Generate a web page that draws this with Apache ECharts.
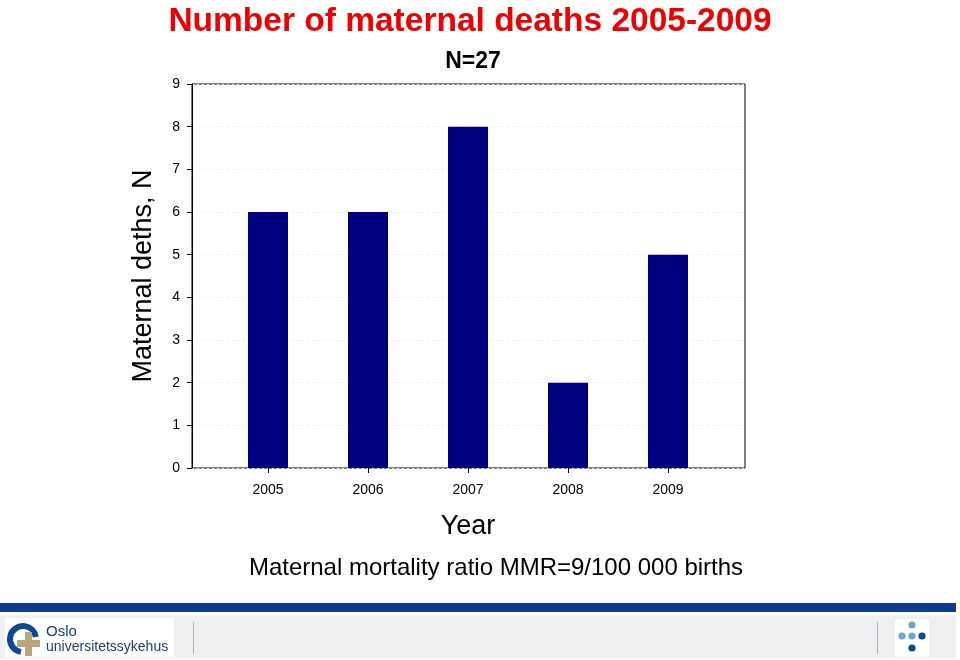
<!DOCTYPE html>
<html>
<head>
<meta charset="utf-8">
<script src="https://cdn.jsdelivr.net/npm/echarts@6/dist/echarts.min.js"></script>
<style>html,body{margin:0;padding:0;background:#fff}#c{width:960px;height:660px}</style>
</head>
<body>
<div id="c"></div>
<script>
var years = ['2005', '2006', '2007', '2008', '2009'];
var deaths = [6, 6, 8, 2, 5];
var yTicks = [0, 1, 2, 3, 4, 5, 6, 7, 8, 9];

var F = 'Liberation Sans, Arial, sans-serif';
var chart = echarts.init(document.getElementById('c'));
chart.setOption({
  animation: false,
  backgroundColor: '#ffffff',
  title: [
    { text: 'Number of maternal deaths 2005-2009', left: 465, top: 0, textAlign: 'center',
      textStyle: { color: '#ee0000', fontFamily: F, fontWeight: 'bold', fontSize: 33.5 } },
    { text: 'N=27', left: 468, top: 45, textAlign: 'center',
      textStyle: { color: '#000', fontFamily: F, fontWeight: 'bold', fontSize: 23 } },
    { text: 'Maternal mortality ratio MMR=9/100 000 births', left: 491, top: 551, textAlign: 'center',
      textStyle: { color: '#000', fontFamily: F, fontWeight: 'normal', fontSize: 24 } }
  ],
  grid: [
    { left: 218, width: 500, top: 84, height: 384, containLabel: false },
    { left: 192, right: 215, top: 84, height: 384, show: true, borderColor: '#000', borderWidth: 1, backgroundColor: 'transparent' }
  ],
  xAxis: [
    { type: 'category', gridIndex: 0, data: years,
      axisLine: { show: false },
      axisTick: { show: true, alignWithLabel: true, length: 5, lineStyle: { color: '#000' } },
      axisLabel: { color: '#000', fontFamily: F, fontSize: 14, margin: 15 },
      name: 'Year', nameLocation: 'middle', nameGap: 45,
      nameTextStyle: { color: '#000', fontFamily: F, fontSize: 27 } },
    { type: 'value', gridIndex: 1, min: 0, max: 1, show: false }
  ],
  yAxis: [
    { type: 'value', gridIndex: 0, min: 0, max: 9, interval: 1, show: false },
    { type: 'value', gridIndex: 1, min: 0, max: 9, interval: 1,
      axisLine: { show: true, lineStyle: { color: '#000' } },
      axisTick: { show: true, length: 5, lineStyle: { color: '#000' } },
      axisLabel: { color: '#000', fontFamily: F, fontSize: 14, margin: 12,
        formatter: function (v) { return yTicks.indexOf(v) >= 0 ? String(v) : ''; } },
      splitLine: { show: true, lineStyle: { color: '#ebebeb', type: [2, 3], width: 1 } },
      name: 'Maternal deths, N', nameLocation: 'middle', nameGap: 35, nameRotate: 90,
      nameTextStyle: { color: '#000', fontFamily: F, fontSize: 27 } }
  ],
  series: [
    { type: 'bar', xAxisIndex: 0, yAxisIndex: 0, data: deaths, barWidth: 40,
      itemStyle: { color: '#000080' } }
  ],
  graphic: [
    { type: 'rect', shape: { x: 0, y: 603, width: 956, height: 9 }, style: { fill: '#0b3a8e' } },
    { type: 'rect', shape: { x: 0, y: 615, width: 956, height: 43 }, style: { fill: '#efefef' } },
    { type: 'rect', shape: { x: 5, y: 618, width: 169, height: 39 }, style: { fill: '#ffffff' } },
    { type: 'arc', shape: { cx: 23, cy: 639, r: 13, startAngle: Math.PI * 0.55, endAngle: Math.PI * 1.95 },
      style: { stroke: '#0b4a8f', lineWidth: 6, fill: null } },
    { type: 'rect', shape: { x: 25, y: 632, width: 7, height: 24 }, style: { fill: '#b9a779' } },
    { type: 'rect', shape: { x: 17, y: 640, width: 23, height: 7 }, style: { fill: '#b9a779' } },
    { type: 'text', style: { x: 46, y: 624, text: 'Oslo', fill: '#1a3f74', font: '15px ' + F } },
    { type: 'text', style: { x: 46, y: 640, text: 'universitetssykehus', fill: '#1a3f74', font: '14px ' + F } },
    { type: 'rect', shape: { x: 193, y: 622, width: 1, height: 32 }, style: { fill: '#a8b4c4' } },
    { type: 'rect', shape: { x: 877, y: 622, width: 1, height: 32 }, style: { fill: '#a8b4c4' } },
    { type: 'rect', shape: { x: 895, y: 619, width: 34, height: 38 }, style: { fill: '#ffffff' } },
    { type: 'circle', shape: { cx: 912, cy: 625, r: 3.6 }, style: { fill: '#6aa6d8' } },
    { type: 'circle', shape: { cx: 902, cy: 636, r: 3.6 }, style: { fill: '#6aa6d8' } },
    { type: 'circle', shape: { cx: 912, cy: 636, r: 3.6 }, style: { fill: '#6aa6d8' } },
    { type: 'circle', shape: { cx: 922, cy: 636, r: 3.6 }, style: { fill: '#0b4a8f' } },
    { type: 'circle', shape: { cx: 912, cy: 648, r: 3.6 }, style: { fill: '#0b4a8f' } }
  ]
});
</script>
</body>
</html>
